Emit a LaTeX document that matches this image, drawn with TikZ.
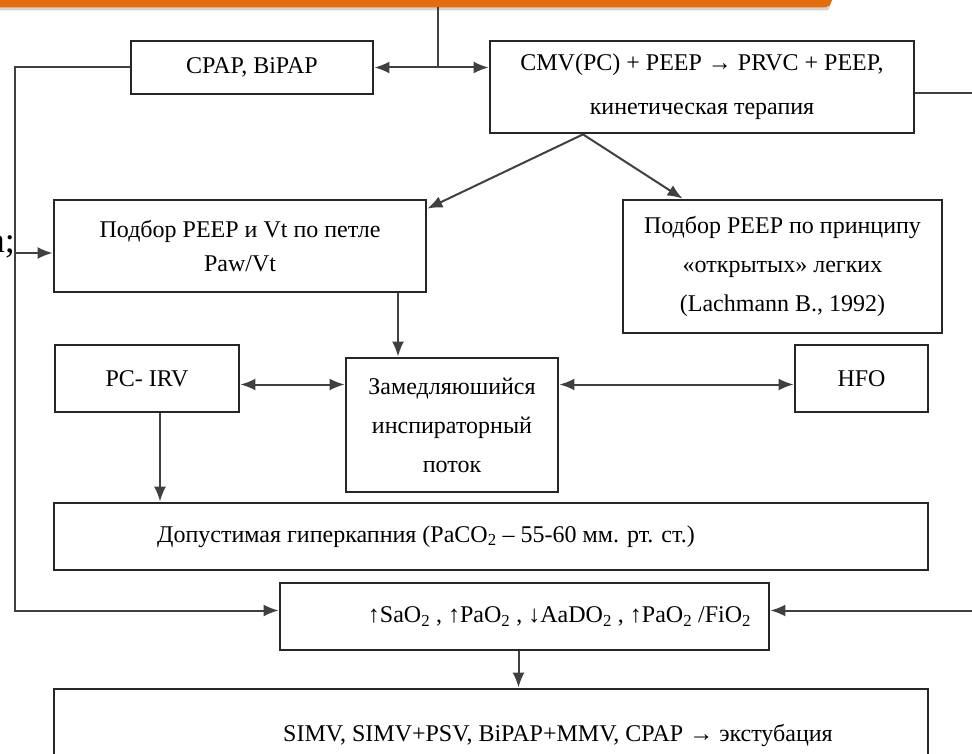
\documentclass[tikz,border=0pt]{standalone}
\usepackage{fontspec}
\setmainfont{Liberation Serif}
\usetikzlibrary{arrows.meta,shadows}
\definecolor{slideorange}{RGB}{228,108,10}
\tikzset{
  blk/.style={draw=black!85, line width=2.8pt, fill=white, inner sep=0pt, align=center,
    font=\fontsize{24}{39}\selectfont},
  lnk/.style={draw=black!75, line width=2pt},
}

\begin{document}
\begin{tikzpicture}[>={Latex[length=15pt,width=12pt]},x=1pt,y=-1pt]
  \useasboundingbox (0,0) rectangle (972,754);
  \clip (0,0) rectangle (972,754);
  \node[draw=slideorange, line width=8pt, fill=white, rounded corners=4pt, minimum width=900pt,
    minimum height=80pt, drop shadow={shadow xshift=2pt, shadow yshift=-7pt, opacity=.35}] (title) at (378,-36.5) {};
  \node[blk, minimum width=242pt, minimum height=53pt] (cpap) at (252,67.5) {CPAP, BiPAP};
  \node[blk, minimum width=424pt, minimum height=92pt] (cmv) at (702,87)
    {CMV(PC) + PEEP → PRVC + PEEP,\\[5pt] кинетическая терапия};
  \node[blk, minimum width=372pt, minimum height=92pt] (peepvt) at (240,246)
    {Подбор PEEP и Vt по петле\\[-5pt] Paw/Vt};
  \node[blk, minimum width=319pt, minimum height=133pt] (lach) at (782.5,266.5)
    {Подбор PEEP по принципу\\ «открытых» легких\\ (Lachmann B., 1992)};
  \node[blk, minimum width=184pt, minimum height=67pt] (pcirv) at (147,378.5) {PC- IRV};
  \node[blk, minimum width=212pt, minimum height=134pt] (zam) at (452,425)
    {Замедляюшийся\\ инспираторный\\ поток};
  \node[blk, minimum width=133pt, minimum height=67pt] (hfo) at (861.5,378.5) {HFO};
  \node[blk, minimum width=874pt, minimum height=67pt] (hyper) at (491,536.5)
    {Допустимая гиперкапния (PaCO\textsubscript{2} – 55-60 мм. рт. ст.)\hspace*{130pt}};
  \node[blk, minimum width=489pt, minimum height=67pt] (sao) at (524.5,616.5)
    {\hspace*{70pt}↑SaO\textsubscript{2} , ↑PaO\textsubscript{2} , ↓AaDO\textsubscript{2} , ↑PaO\textsubscript{2} /FiO\textsubscript{2}};
  \node[blk, minimum width=874pt, minimum height=92pt] (final) at (491,735)
    {\hspace*{134pt}SIMV, SIMV+PSV, BiPAP+MMV, CPAP → экстубация};
  \node[font=\fontsize{36}{40}\selectfont, inner sep=0pt, anchor=base east] (semi) at (15,253) {а;};
  \coordinate (tap) at (438,67.5);
  \coordinate (loopL) at (15,300);
  \coordinate (loopR) at (1000,300);

  \draw[lnk,<->] (cpap.east) -- (cpap.east -| cmv.west);
  \draw[lnk] (tap) -- (tap |- title.south);
  \draw[lnk,->] (cpap.west) -| (loopL) |- ([yshift=6pt]sao.west);
  \draw[lnk,->] ([yshift=-6pt]cmv.east) -| (loopR) |- ([yshift=6pt]sao.east);
  \draw[lnk,->] ([xshift=-119pt]cmv.south) -- ([yshift=-10pt]peepvt.north east);
  \draw[lnk,->] ([xshift=-119pt]cmv.south) -- ([xshift=-100pt]lach.north);
  \draw[lnk,->] (semi.base east) -- (semi.base east -| peepvt.west);
  \draw[lnk,->] ([xshift=158pt]peepvt.south) -- ([xshift=158pt]peepvt.south |- zam.north);
  \draw[lnk,<->] ([yshift=-6pt]pcirv.east) -- ([yshift=-6pt]pcirv.east -| zam.west);
  \draw[lnk,<->] ([yshift=-6pt]hfo.west -| zam.east) -- ([yshift=-6pt]hfo.west);
  \draw[lnk,->] ([xshift=13pt]pcirv.south) -- ([xshift=13pt]pcirv.south |- hyper.north);
  \draw[lnk,->] ([xshift=-6pt]sao.south) -- ([xshift=-6pt]sao.south |- final.north);
\end{tikzpicture}
\end{document}
